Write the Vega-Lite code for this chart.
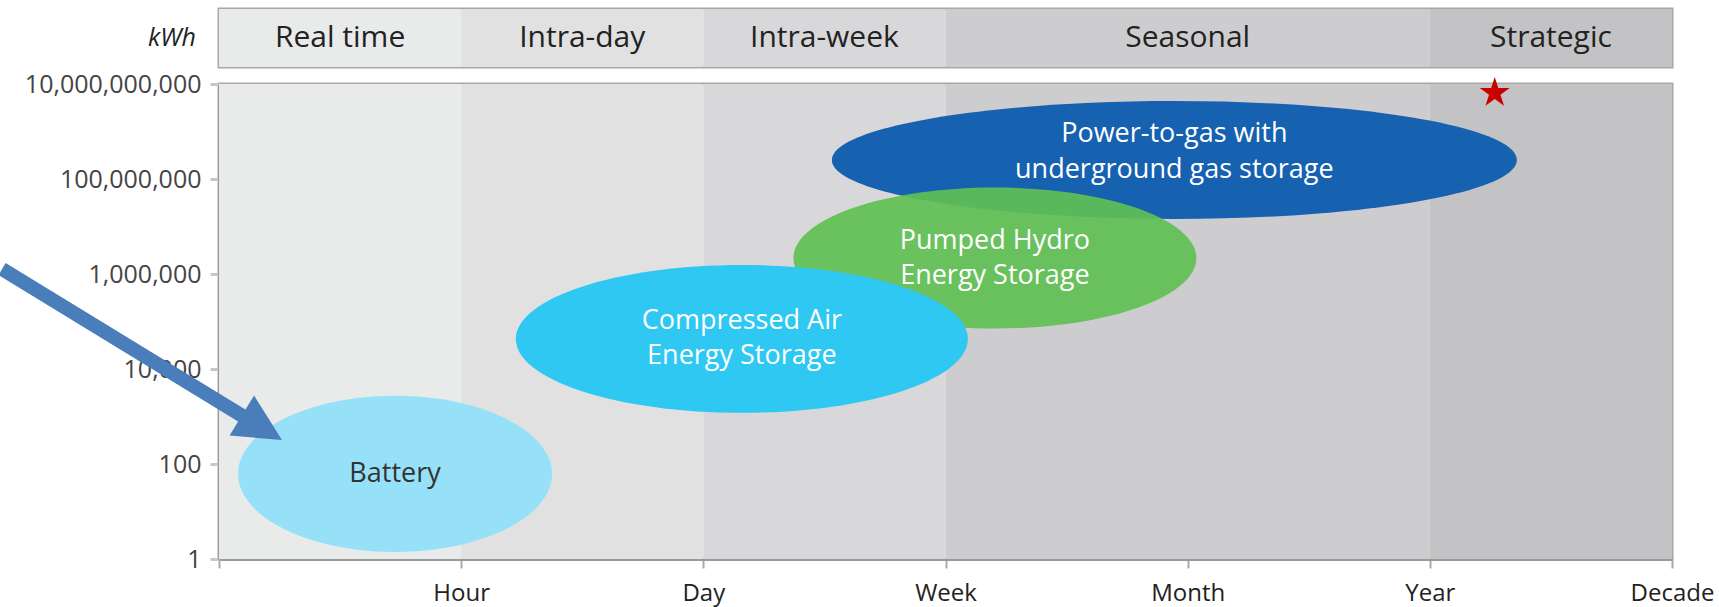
{
  "$schema": "https://vega.github.io/schema/vega-lite/v6.json",
  "padding": {"left": -7, "top": 7, "right": 0, "bottom": 0},
  "background": "white",
  "spacing": 17,
  "bounds": "flush",
  "config": {
    "font": "Open Sans",
    "view": {"stroke": "#a8a8a8", "strokeWidth": 3}
  },
  "datasets": {
    "bands": [
      {"band": "Real time", "start": 0, "end": 1, "mid": 0.5},
      {"band": "Intra-day", "start": 1, "end": 2, "mid": 1.5},
      {"band": "Intra-week", "start": 2, "end": 3, "mid": 2.5},
      {"band": "Seasonal", "start": 3, "end": 5, "mid": 4},
      {"band": "Strategic", "start": 5, "end": 6, "mid": 5.5}
    ],
    "tech": [
      {"tech": "Power-to-gas", "duration": 3.945, "kwh": 251000000, "label": "Power-to-gas with|underground gas storage"},
      {"tech": "Pumped Hydro", "duration": 3.204, "kwh": 2170000, "label": "Pumped Hydro|Energy Storage"},
      {"tech": "Compressed Air", "duration": 2.159, "kwh": 43000, "label": "Compressed Air|Energy Storage"},
      {"tech": "Battery", "duration": 0.727, "kwh": 62, "label": "Battery"}
    ]
  },
  "vconcat": [
    {
      "width": 1453,
      "height": 58,
      "layer": [
        {
          "data": {"name": "bands"},
          "mark": {"type": "rect"},
          "encoding": {
            "x": {"field": "start", "type": "quantitative", "scale": {"domain": [0, 6], "nice": false, "zero": false}, "axis": null},
            "x2": {"field": "end"},
            "color": {"field": "band", "type": "nominal", "legend": null,
              "scale": {"domain": ["Real time", "Intra-day", "Intra-week", "Seasonal", "Strategic"], "range": ["#e9eaea", "#e1e1e1", "#d8d8da", "#cdcdcf", "#c3c3c5"]}}
          }
        },
        {
          "data": {"name": "bands"},
          "mark": {"type": "text", "fontSize": 30, "color": "#222222"},
          "encoding": {
            "x": {"field": "mid", "type": "quantitative"},
            "text": {"field": "band"}
          }
        },
        {
          "data": {"values": [{"unit": "kWh", "pos": -0.194}]},
          "mark": {"type": "text", "fontSize": 25, "fontStyle": "italic", "color": "#222222"},
          "encoding": {
            "x": {"field": "pos", "type": "quantitative"},
            "text": {"field": "unit"}
          }
        }
      ]
    },
    {
      "width": 1453,
      "height": 475,
      "layer": [
        {
          "data": {"name": "bands"},
          "mark": {"type": "rect"},
          "encoding": {
            "x": {"field": "start", "type": "quantitative", "scale": {"domain": [0, 6], "nice": false, "zero": false},
              "axis": {"values": [0, 1, 2, 3, 4, 5, 6], "labelExpr": "['','Hour','Day','Week','Month','Year','Decade'][datum.value]",
                "title": null, "grid": false, "domainColor": "#999999", "domainWidth": 3, "tickColor": "#aaaaaa", "tickWidth": 2, "tickSize": 9,
                "labelPadding": 13, "labelFontSize": 24, "labelColor": "#222222", "labelFlush": false, "labelOverlap": false, "labelBound": false}},
            "x2": {"field": "end"},
            "color": {"field": "band", "type": "nominal", "legend": null,
              "scale": {"domain": ["Real time", "Intra-day", "Intra-week", "Seasonal", "Strategic"], "range": ["#e9eaea", "#e1e1e1", "#d8d8da", "#cdcdcf", "#c3c3c5"]}}
          }
        },
        {
          "data": {"name": "tech"},
          "transform": [{"filter": "datum.tech === 'Power-to-gas'"}],
          "mark": {"type": "point", "filled": true, "color": "#1661b0", "opacity": 1, "strokeWidth": 0, "size": 469225,
            "shape": "M-1,0C-1,-0.0951,-0.5523,-0.1723,0,-0.1723C0.5523,-0.1723,1,-0.0951,1,0C1,0.0951,0.5523,0.1723,0,0.1723C-0.5523,0.1723,-1,0.0951,-1,0Z"},
          "encoding": {
            "x": {"field": "duration", "type": "quantitative", "title": null},
            "y": {"field": "kwh", "type": "quantitative", "scale": {"type": "log", "domain": [1, 10000000000], "nice": false},
              "axis": {"values": [1, 100, 10000, 1000000, 100000000, 10000000000], "format": ",", "title": null, "grid": false,
                "domainColor": "#999999", "domainWidth": 3, "tickColor": "#c8c8c8", "tickWidth": 3, "tickSize": 9, "labelPadding": 9,
                "labelFontSize": 25, "labelColor": "#444444", "labelFlush": false, "labelOverlap": false, "labelBound": false}}
          }
        },
        {
          "data": {"name": "tech"},
          "transform": [{"filter": "datum.tech === 'Pumped Hydro'"}],
          "mark": {"type": "point", "filled": true, "color": "#61c055", "opacity": 0.92, "strokeWidth": 0, "size": 162409,
            "shape": "M-1,0C-1,-0.1933,-0.5523,-0.35,0,-0.35C0.5523,-0.35,1,-0.1933,1,0C1,0.1933,0.5523,0.35,0,0.35C-0.5523,0.35,-1,0.1933,-1,0Z"},
          "encoding": {
            "x": {"field": "duration", "type": "quantitative"},
            "y": {"field": "kwh", "type": "quantitative"}
          }
        },
        {
          "data": {"name": "tech"},
          "transform": [{"filter": "datum.tech === 'Compressed Air'"}],
          "mark": {"type": "point", "filled": true, "color": "#2ec8f2", "opacity": 1, "strokeWidth": 0, "size": 204304,
            "shape": "M-1,0C-1,-0.1806,-0.5523,-0.327,0,-0.327C0.5523,-0.327,1,-0.1806,1,0C1,0.1806,0.5523,0.327,0,0.327C-0.5523,0.327,-1,0.1806,-1,0Z"},
          "encoding": {
            "x": {"field": "duration", "type": "quantitative"},
            "y": {"field": "kwh", "type": "quantitative"}
          }
        },
        {
          "data": {"name": "tech"},
          "transform": [{"filter": "datum.tech === 'Battery'"}],
          "mark": {"type": "point", "filled": true, "color": "#96e1f7", "opacity": 1, "strokeWidth": 0, "size": 98596,
            "shape": "M-1,0C-1,-0.2745,-0.5523,-0.497,0,-0.497C0.5523,-0.497,1,-0.2745,1,0C1,0.2745,0.5523,0.497,0,0.497C-0.5523,0.497,-1,0.2745,-1,0Z"},
          "encoding": {
            "x": {"field": "duration", "type": "quantitative"},
            "y": {"field": "kwh", "type": "quantitative"}
          }
        },
        {
          "data": {"name": "tech"},
          "transform": [{"filter": "datum.tech === 'Battery'"}],
          "mark": {"type": "text", "fontSize": 27, "color": "#333333"},
          "encoding": {
            "x": {"field": "duration", "type": "quantitative"},
            "y": {"field": "kwh", "type": "quantitative"},
            "text": {"field": "label"}
          }
        },
        {
          "data": {"name": "tech"},
          "transform": [{"filter": "datum.tech === 'Compressed Air' || datum.tech === 'Pumped Hydro'"}],
          "mark": {"type": "text", "fontSize": 27, "lineBreak": "|", "lineHeight": 35, "dy": -17.5, "color": "#ffffff"},
          "encoding": {
            "x": {"field": "duration", "type": "quantitative"},
            "y": {"field": "kwh", "type": "quantitative"},
            "text": {"field": "label"}
          }
        },
        {
          "data": {"name": "tech"},
          "transform": [{"filter": "datum.tech === 'Power-to-gas'"}],
          "mark": {"type": "text", "fontSize": 27, "lineBreak": "|", "lineHeight": 36, "dy": -26, "color": "#ffffff"},
          "encoding": {
            "x": {"field": "duration", "type": "quantitative"},
            "y": {"field": "kwh", "type": "quantitative"},
            "text": {"field": "label"}
          }
        },
        {
          "data": {"values": [{"marker": "star", "duration": 5.268, "kwh": 6500000000}]},
          "mark": {"type": "point", "filled": true, "color": "#c80000", "opacity": 1, "strokeWidth": 0, "size": 994, "clip": false,
            "shape": "M0,-1L0.2245,-0.309L0.951,-0.309L0.3633,0.118L0.5878,0.809L0,0.382L-0.5878,0.809L-0.3633,0.118L-0.951,-0.309L-0.2245,-0.309Z"},
          "encoding": {
            "x": {"field": "duration", "type": "quantitative"},
            "y": {"field": "kwh", "type": "quantitative"}
          }
        },
        {
          "data": {"values": [{"x0": -0.896, "y0": 1270000, "x1": 0.1445, "y1": 733}]},
          "mark": {"type": "rule", "color": "#4a7ebb", "strokeWidth": 14, "strokeCap": "butt"},
          "encoding": {
            "x": {"field": "x0", "type": "quantitative"},
            "y": {"field": "y0", "type": "quantitative"},
            "x2": {"field": "x1"},
            "y2": {"field": "y1"}
          }
        },
        {
          "data": {"values": [{"x": 0.1771, "y": 578}]},
          "mark": {"type": "point", "filled": true, "color": "#4a7ebb", "opacity": 1, "strokeWidth": 0, "size": 2209, "angle": 31.4,
            "shape": "M1,0L-1,-1L-1,1Z"},
          "encoding": {
            "x": {"field": "x", "type": "quantitative"},
            "y": {"field": "y", "type": "quantitative"}
          }
        }
      ]
    }
  ]
}
